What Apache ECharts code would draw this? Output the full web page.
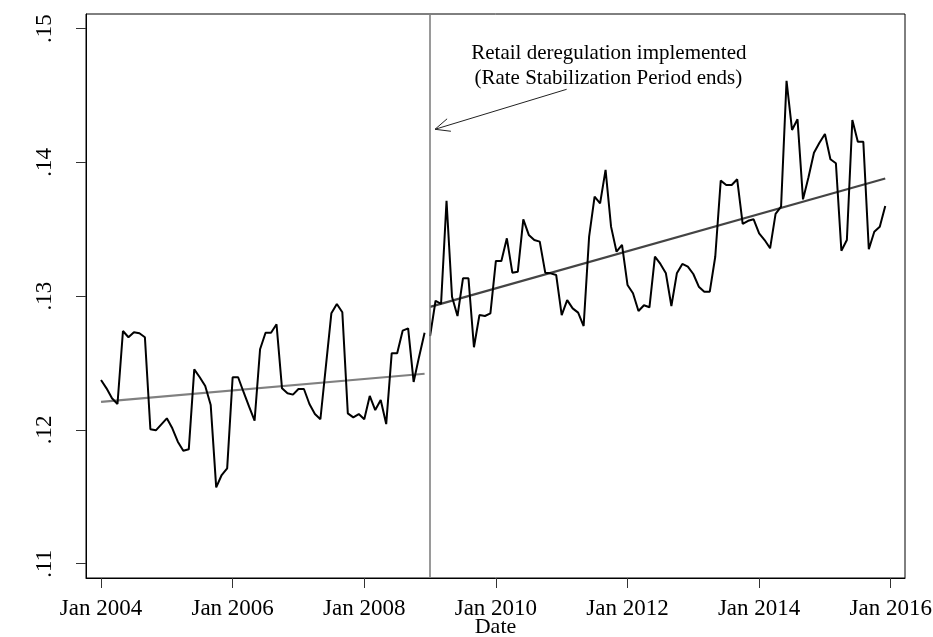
<!DOCTYPE html>
<html><head><meta charset="utf-8">
<script src="https://cdn.jsdelivr.net/npm/echarts@6/dist/echarts.min.js"></script>
<style>html,body{margin:0;padding:0;background:#fff}#c{width:933px;height:637px}</style>
</head><body><div id="c"></div>
<script>
// Monthly series, month index 0 = Jan 2004
const preValues = [
  0.12373,0.12311,0.12237,0.12194,0.12740,0.12693,0.12730,0.12723,0.12693,0.12005,
  0.11997,0.12042,0.12087,0.12012,0.11912,0.11845,0.11855,0.12453,0.12394,0.12329,
  0.12186,0.11571,0.11663,0.11713,0.12394,0.12394,0.12282,0.12174,0.12069,0.12603,
  0.12727,0.12727,0.12790,0.12311,0.12274,0.12264,0.12306,0.12306,0.12194,0.12119,
  0.12080,0.12476,0.12872,0.12942,0.12880,0.12124,0.12094,0.12119,0.12080,0.12254,
  0.12149,0.12224,0.12044,0.12573,0.12573,0.12742,0.12760,0.12359,0.12548,0.12727
];
const postValues = [
  0.12702,0.12966,0.12942,0.13714,0.12996,0.12852,0.13134,0.13134,0.12618,0.12859,
  0.12852,0.12872,0.13264,0.13264,0.13433,0.13176,0.13183,0.13575,0.13458,0.13420,
  0.13408,0.13176,0.13171,0.13158,0.12859,0.12971,0.12909,0.12877,0.12777,0.13445,
  0.13744,0.13694,0.13944,0.13520,0.13333,0.13383,0.13084,0.13022,0.12889,0.12932,
  0.12917,0.13296,0.13241,0.13171,0.12927,0.13171,0.13241,0.13221,0.13166,0.13071,
  0.13034,0.13034,0.13295,0.13864,0.13831,0.13831,0.13874,0.13540,0.13564,0.13575,
  0.13470,0.13420,0.13358,0.13615,0.13669,0.14611,0.14243,0.14323,0.13724,0.13889,
  0.14073,0.14148,0.14213,0.14024,0.13994,0.13340,0.13420,0.14317,0.14155,0.14155,
  0.13351,0.13482,0.13520,0.13674
];
const preStartMonth = 0;
const postStartMonth = 60;
const preTrendMonths = [0, 59];
const preTrendValues = [0.1221, 0.1242];
const postTrendMonths = [60, 143];
const postTrendValues = [0.1292, 0.1388];
const eventMonth = 60;
const xTickValues = [0, 24, 48, 72, 96, 120, 144];
const xTickLabels = ['Jan 2004','Jan 2006','Jan 2008','Jan 2010','Jan 2012','Jan 2014','Jan 2016'];
const yTickValues = [0.11, 0.12, 0.13, 0.14, 0.15];
const yTickLabels = ['.11', '.12', '.13', '.14', '.15'];
const xTitle = 'Date';
const annotationLines = ['Retail deregulation implemented', '(Rate Stabilization Period ends)'];

const FONT = 'Liberation Serif';
const X_MIN = -2.74, X_MAX = 146.6;
const preData = preValues.map((v, i) => [preStartMonth + i, v]);
const postData = postValues.map((v, i) => [postStartMonth + i, v]);
const preTrendData = preTrendMonths.map((m, i) => [m, preTrendValues[i]]);
const postTrendData = postTrendMonths.map((m, i) => [m, postTrendValues[i]]);

function lookup(vals, labels, v) {
  for (let i = 0; i < vals.length; i++) if (Math.abs(vals[i] - v) < 1e-6) return labels[i];
  return '';
}

const chart = echarts.init(document.getElementById('c'), null, {renderer: 'canvas'});
chart.setOption({
  animation: false,
  backgroundColor: '#fff',
  grid: {left: 86, right: 28, top: 14, bottom: 59, containLabel: false, outerBoundsMode: 'none',
    show: true, borderColor: '#000', borderWidth: 1, backgroundColor: 'transparent'},
  xAxis: {
    type: 'value', min: X_MIN, max: X_MAX,
    axisLine: {show: true, onZero: false, lineStyle: {color: '#000', width: 1}},
    axisTick: {show: true, length: 10, customValues: xTickValues, lineStyle: {color: '#333', width: 1}},
    axisLabel: {customValues: xTickValues, margin: 19, fontFamily: FONT, fontSize: 23, color: '#000',
      formatter: v => lookup(xTickValues, xTickLabels, v)},
    splitLine: {show: false}
  },
  yAxis: {
    type: 'value', min: 0.10893, max: 0.1511,
    axisLine: {show: true, onZero: false, lineStyle: {color: '#000', width: 1}},
    axisTick: {show: true, length: 10, customValues: yTickValues, lineStyle: {color: '#333', width: 1}},
    axisLabel: {customValues: yTickValues, rotate: 90, margin: 30, fontFamily: FONT, fontSize: 23, color: '#000',
      formatter: v => lookup(yTickValues, yTickLabels, v)},
    splitLine: {show: false}
  },
  series: [
    {type: 'line', data: preTrendData, symbol: 'none', lineStyle: {color: '#808080', width: 2.2}, z: 3},
    {type: 'line', data: postTrendData, symbol: 'none', lineStyle: {color: '#444444', width: 2.2}, z: 3},
    {type: 'line', data: preData, symbol: 'none', lineStyle: {color: '#000', width: 2}, z: 4,
      markLine: {silent: true, symbol: ['none', 'none'], label: {show: false},
        lineStyle: {color: '#808080', width: 1.6, type: 'solid'}, data: [{xAxis: eventMonth}]}},
    {type: 'line', data: postData, symbol: 'none', lineStyle: {color: '#000', width: 2}, z: 4}
  ]
});

// annotation text, axis title and arrow, positioned from the axes
const textPos1 = chart.convertToPixel({gridIndex: 0}, [92.6, 0.14818]);
const textPos2 = chart.convertToPixel({gridIndex: 0}, [92.5, 0.14631]);
const arrowFrom = chart.convertToPixel({gridIndex: 0}, [84.9, 0.14547]);
const arrowTo = chart.convertToPixel({gridIndex: 0}, [60.9, 0.14248]);
const titleX = chart.convertToPixel({xAxisIndex: 0}, (X_MIN + X_MAX) / 2);
const ang = Math.atan2(arrowFrom[1] - arrowTo[1], arrowFrom[0] - arrowTo[0]);
const wl = 16, wa = 24 * Math.PI / 180;
const w1 = [arrowTo[0] + wl * Math.cos(ang - wa), arrowTo[1] + wl * Math.sin(ang - wa)];
const w2 = [arrowTo[0] + wl * Math.cos(ang + wa), arrowTo[1] + wl * Math.sin(ang + wa)];
chart.setOption({
  graphic: [
    {type: 'text', x: textPos1[0], y: textPos1[1], style: {text: annotationLines[0], font: '21px "Liberation Serif"', fill: '#000', align: 'center', verticalAlign: 'middle'}},
    {type: 'text', x: textPos2[0], y: textPos2[1], style: {text: annotationLines[1], font: '21px "Liberation Serif"', fill: '#000', align: 'center', verticalAlign: 'middle'}},
    {type: 'text', x: titleX, y: 627, style: {text: xTitle, font: '22px "Liberation Serif"', fill: '#000', align: 'center', verticalAlign: 'middle'}},
    {type: 'line', shape: {x1: arrowFrom[0], y1: arrowFrom[1], x2: arrowTo[0], y2: arrowTo[1]}, style: {stroke: '#222', lineWidth: 1}},
    {type: 'polyline', shape: {points: [w1, arrowTo, w2]}, style: {stroke: '#222', lineWidth: 1, fill: null}}
  ]
});
</script>
</body></html>
